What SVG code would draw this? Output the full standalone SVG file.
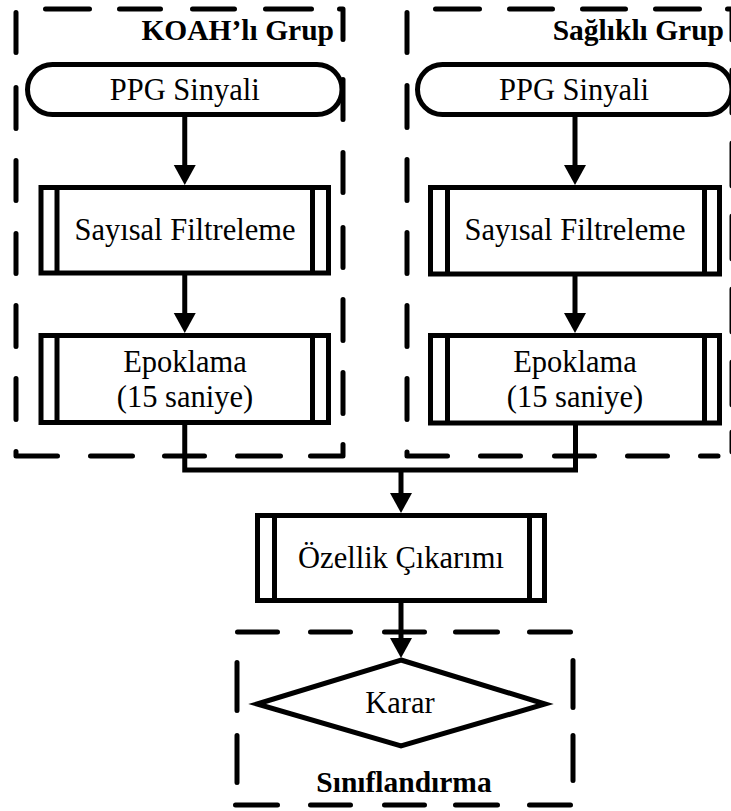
<svg xmlns="http://www.w3.org/2000/svg" width="731" height="811" viewBox="0 0 731 811">
<style>
.grp{fill:none;stroke:#000;stroke-width:5;stroke-linecap:round;stroke-linejoin:round}
.box{fill:#fff;stroke:#000;stroke-width:5}
.bar{stroke:#000;stroke-width:5}
.con{fill:none;stroke:#000;stroke-width:5}
.t{font-family:"Liberation Serif","Times New Roman",serif;font-size:30.5px;fill:#000;text-anchor:middle}
.tb{font-family:"Liberation Serif","Times New Roman",serif;font-size:29.5px;font-weight:bold;fill:#000}
</style>
<defs>
<marker id="ah" markerUnits="userSpaceOnUse" markerWidth="22" markerHeight="24" refX="0" refY="11" orient="auto" overflow="visible">
<path d="M0,0 L20,11 L0,22 z" fill="#000"/>
</marker>
</defs>
<rect width="731" height="811" fill="#fff"/>

<g id="group-koah">
<path class="grp" d="M16,12.5V52.5 M16,87.5V128.5 M16,160.5V200.5 M16,233.5V273.5 M16,305.5V346.5 M16,378.5V419.5 M16,451.5V456H57.5 M90.5,456H132.5 M164.5,456H204.5 M237.5,456H280.5 M310.5,456H343V444.5 M343,413.5V372.5 M343,340.5V299.5 M343,267.5V227.5 M343,192.5V152.5 M343,39.5V9H339.5 M311.5,9H265.5 M234.5,9H192.5 M160.5,9H119.5 M89.5,9H45.5"/>
<text class="tb" x="334" y="40" text-anchor="end">KOAH’lı Grup</text>
</g>

<g id="group-saglikli">
<path class="grp" d="M407,12.5V52.5 M407,85.5V127.5 M407,159.5V200.5 M407,232.5V273.5 M407,305.5V346.5 M407,378.5V419.5 M407,452V456H447.5 M480.5,456H520.5 M554.5,456H594.5 M627.5,456H667.5 M700.5,456H718 M732,432V452 M732,405V362 M732,332V289 M732,259V216 M732,186V143 M732,113V70 M732,40V9H727.5 M699.5,9H655.5 M625.5,9H582.5 M552.5,9H509.5 M479.5,9H435.5"/>
<text class="tb" x="724" y="40" text-anchor="end">Sağlıklı Grup</text>
</g>

<g id="group-siniflandirma">
<path class="grp" d="M237.5,632H277.5 M310.5,632H350.5 M384.5,632H424.5 M455.5,632H497.5 M529.5,632H570.5 M237,662.5V710.5 M237,735.5V782.5 M573,660.5V707.5 M573,735.5V780.5 M235.5,805H277.5 M310.5,805H350.5 M384.5,805H424.5 M455.5,805H497.5 M529.5,805H570.5"/>
<text class="tb" x="404" y="792" text-anchor="middle">Sınıflandırma</text>
</g>

<g id="connectors">
<path class="con" d="M184.75,117V165" marker-end="url(#ah)"/>
<path class="con" d="M184.75,275V313" marker-end="url(#ah)"/>
<path class="con" d="M575,117V165" marker-end="url(#ah)"/>
<path class="con" d="M575,276V313" marker-end="url(#ah)"/>
<path class="con" d="M184.75,425V470H575.5V425"/>
<path class="con" d="M401,470V493" marker-end="url(#ah)"/>
<path class="con" d="M401,603V638" marker-end="url(#ah)"/>
</g>

<g id="ppg-koah">
<rect class="box" x="27.5" y="64.5" width="314.5" height="50" rx="25" ry="25"/>
<text class="t" x="184.75" y="100">PPG Sinyali</text>
</g>

<g id="ppg-saglikli">
<rect class="box" x="417.5" y="64.5" width="314.5" height="50" rx="25" ry="25"/>
<text class="t" x="574" y="100">PPG Sinyali</text>
</g>

<path class="grp" d="M343,119.5V79.5"/>

<g id="filtre-koah">
<rect class="box" x="41" y="187.5" width="287.5" height="85.5"/>
<line class="bar" x1="57" y1="187.5" x2="57" y2="273"/>
<line class="bar" x1="312.5" y1="187.5" x2="312.5" y2="273"/>
<text class="t" x="185" y="240">Sayısal Filtreleme</text>
</g>

<g id="filtre-saglikli">
<rect class="box" x="430.5" y="187.5" width="289" height="86.5"/>
<line class="bar" x1="447.5" y1="187.5" x2="447.5" y2="274"/>
<line class="bar" x1="704.5" y1="187.5" x2="704.5" y2="274"/>
<text class="t" x="575" y="240">Sayısal Filtreleme</text>
</g>

<g id="epok-koah">
<rect class="box" x="41" y="335.5" width="287.5" height="87"/>
<line class="bar" x1="57" y1="335.5" x2="57" y2="422.5"/>
<line class="bar" x1="312.5" y1="335.5" x2="312.5" y2="422.5"/>
<text class="t" x="185" y="372">Epoklama</text>
<text class="t" x="185" y="407">(15 saniye)</text>
</g>

<g id="epok-saglikli">
<rect class="box" x="430.5" y="335.5" width="289" height="87.5"/>
<line class="bar" x1="447.5" y1="335.5" x2="447.5" y2="423"/>
<line class="bar" x1="704.5" y1="335.5" x2="704.5" y2="423"/>
<text class="t" x="575" y="372">Epoklama</text>
<text class="t" x="575" y="407">(15 saniye)</text>
</g>

<g id="ozellik">
<rect class="box" x="257.5" y="515.5" width="287" height="85"/>
<line class="bar" x1="274.5" y1="515.5" x2="274.5" y2="600.5"/>
<line class="bar" x1="529.5" y1="515.5" x2="529.5" y2="600.5"/>
<text class="t" x="401" y="568">Özellik Çıkarımı</text>
</g>

<g id="karar">
<polygon class="box" points="401,660 545,704 401,746 257,704"/>
<text class="t" x="400" y="713">Karar</text>
</g>
</svg>
